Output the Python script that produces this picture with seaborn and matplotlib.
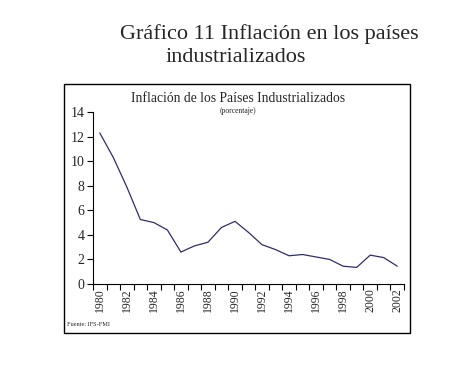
import matplotlib
matplotlib.use("Agg")
import matplotlib.pyplot as plt
import seaborn as sns
import numpy as np
import pandas as pd
from matplotlib.patches import Rectangle

years = list(range(1980, 2003))
inflation = [12.3, 10.3, 7.9, 5.25, 5.0, 4.4, 2.6, 3.1, 3.4, 4.6, 5.1, 4.2, 3.2, 2.8, 2.3, 2.4, 2.2, 2.0, 1.45, 1.35, 2.35, 2.15, 1.45]
ytick_values = [0, 2, 4, 6, 8, 10, 12, 14]

sns.set_theme(style="white")
plt.rcParams['font.family'] = ['Liberation Serif', 'DejaVu Serif']

df = pd.DataFrame({"idx": np.arange(len(years)), "year": years, "val": inflation})

fig = plt.figure(figsize=(4.58, 3.66), dpi=100)
W, H = 458, 366

def fx(px):
    return px / W

def fy(py):
    return 1 - py / H

# frame
fig.patches.append(Rectangle((fx(64), fy(333)), fx(410) - fx(64), fy(84) - fy(333),
                             transform=fig.transFigure, fill=False, edgecolor='black', linewidth=1.0))

ax = fig.add_axes([fx(93), fy(284), fx(404) - fx(93), fy(112) - fy(284)])
sns.lineplot(data=df, x="idx", y="val", ax=ax, color='#2e2e6e', linewidth=0.9)

ax.set_xlim(-0.5, len(years) - 0.5)
ax.set_ylim(0, 14)
ax.set_yticks(ytick_values)
ax.set_yticklabels([str(v) for v in ytick_values], fontsize=10)
ax.set_xticks(np.arange(-0.5, len(years), 1.0))
ax.set_xticklabels([])
ax.set_xticks(np.arange(0, len(years), 2), minor=True)
ax.set_xticklabels([str(y) for y in years[::2]], minor=True, rotation=90, fontsize=8.5)
ax.tick_params(axis='x', which='major', direction='out', length=4, width=0.8, color='black', bottom=True)
ax.tick_params(axis='x', which='minor', length=0, pad=3, bottom=True)
ax.tick_params(axis='y', direction='out', length=4, width=0.8, color='black', left=True, pad=2)
for s in ['top', 'right']:
    ax.spines[s].set_visible(False)
for s in ['left', 'bottom']:
    ax.spines[s].set_color('black')
    ax.spines[s].set_linewidth(0.8)
ax.set_xlabel("")
ax.set_ylabel("")
ax.grid(False)

fig.text(fx(238), fy(98), "Inflación de los Países Industrializados", ha='center', va='center', fontsize=9.8)
fig.text(fx(238), fy(111), "(porcentaje)", ha='center', va='center', fontsize=5.5)
fig.text(fx(67), fy(325), "Fuente: IFS-FMI", ha='left', va='center', fontsize=4.5)

fig.text(fx(120), fy(34), "Gráfico 11 Inflación en los países", ha='left', va='center', fontsize=16)
fig.text(fx(166), fy(58), "industrializados", ha='left', va='center', fontsize=16)

fig.savefig("out.png", dpi=100)
